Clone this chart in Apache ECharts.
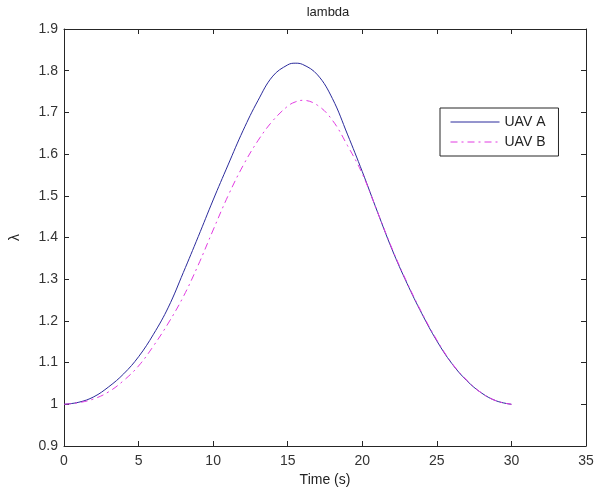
<!DOCTYPE html>
<html>
<head>
<meta charset="utf-8">
<script src="https://cdn.jsdelivr.net/npm/echarts@6/dist/echarts.min.js"></script>
<style>
  html, body { margin: 0; padding: 0; background: #fff; }
  #main { width: 597px; height: 494px; }
</style>
</head>
<body>
<div id="main"></div>
<script>
// time samples (s)
var timeValues = [0, 1, 2, 3, 4, 5, 6, 7, 8, 9, 10, 11, 12, 13, 14, 15, 15.5, 16, 17, 18, 19, 20, 21, 22, 23, 24, 25, 26, 27, 28, 29, 30]
// lambda, UAV A
var uavA = [1.000, 1.005, 1.018, 1.042, 1.073, 1.114, 1.168, 1.233, 1.316, 1.402, 1.490, 1.574, 1.656, 1.728, 1.787, 1.814, 1.818, 1.815, 1.790, 1.733, 1.648, 1.558, 1.463, 1.371, 1.290, 1.217, 1.152, 1.098, 1.057, 1.027, 1.008, 1.000]
// lambda, UAV B
var uavB = [1.000, 1.004, 1.013, 1.030, 1.057, 1.092, 1.140, 1.195, 1.258, 1.334, 1.418, 1.500, 1.572, 1.632, 1.680, 1.715, 1.725, 1.729, 1.717, 1.681, 1.621, 1.553, 1.463, 1.373, 1.292, 1.219, 1.154, 1.099, 1.058, 1.027, 1.008, 1.000]

var xMin = 0, xMax = 35, xStep = 5
var yMin = 0.9, yMax = 1.9, yStep = 0.1

var axisColor = '#262626'
var font = 'Liberation Sans, Arial, sans-serif'

function pairs(xs, ys) {
  return xs.map(function (x, i) { return [x, ys[i]] })
}

var myChart = echarts.init(document.getElementById('main'))

// 上下左右四条边框，刻度朝内
function frameAxis(extra) {
  return Object.assign({
    type: 'value',
    axisLine: { show: true, onZero: false, lineStyle: { color: axisColor, width: 1 } },
    axisTick: { show: true, inside: true, length: 5, lineStyle: { color: axisColor } },
    splitLine: { show: false },
    axisLabel: { show: false }
  }, extra)
}

myChart.setOption({
  animation: false,
  backgroundColor: '#fff',
  title: {
    text: 'lambda',
    left: 323,
    textAlign: 'center',
    top: 1,
    textStyle: { fontFamily: font, fontSize: 13, fontWeight: 'normal', color: '#222' }
  },
  legend: {
    orient: 'vertical',
    left: 440,
    top: 108,
    padding: [7, 13, 7, 10],
    itemGap: 6,
    itemWidth: 49,
    itemHeight: 14,
    backgroundColor: '#fff',
    borderColor: axisColor,
    borderWidth: 1,
    borderRadius: 0,
    itemStyle: { opacity: 0 },
    lineStyle: { width: 1 },
    textStyle: { fontFamily: font, fontSize: 14, color: '#222' },
    data: ['UAV A', 'UAV B']
  },
  grid: { left: 61, right: 11, top: 29, bottom: 48 },
  xAxis: [
    frameAxis({
      min: xMin, max: xMax, interval: xStep,
      position: 'bottom',
      name: 'Time (s)',
      nameLocation: 'middle',
      nameGap: 26,
      nameTextStyle: { fontFamily: font, fontSize: 14, color: '#222' },
      axisLabel: { show: true, margin: 8, fontFamily: font, fontSize: 14, color: '#333' }
    }),
    frameAxis({ min: xMin, max: xMax, interval: xStep, position: 'top' })
  ],
  yAxis: [
    frameAxis({
      min: yMin, max: yMax, interval: yStep,
      position: 'left',
      name: 'λ',
      nameLocation: 'middle',
      nameRotate: 90,
      nameGap: 42,
      nameTextStyle: { fontFamily: font, fontSize: 14, color: '#222' },
      axisLabel: {
        show: true, margin: 6, fontFamily: font, fontSize: 14, color: '#333',
        formatter: function (v) { return String(+v.toFixed(1)) }
      }
    }),
    frameAxis({ min: yMin, max: yMax, interval: yStep, position: 'right' })
  ],
  series: [
    {
      name: 'UAV A',
      type: 'line',
      smooth: 0.4,
      symbol: 'none',
      data: pairs(timeValues, uavA),
      itemStyle: { color: '#2b2b9c' },
      lineStyle: { color: '#2b2b9c', width: 1 }
    },
    {
      name: 'UAV B',
      type: 'line',
      smooth: 0.4,
      symbol: 'none',
      data: pairs(timeValues, uavB),
      itemStyle: { color: '#e23be2' },
      lineStyle: { color: '#e23be2', width: 1, type: [7, 4, 2, 4] }
    }
  ]
})
</script>
</body>
</html>
